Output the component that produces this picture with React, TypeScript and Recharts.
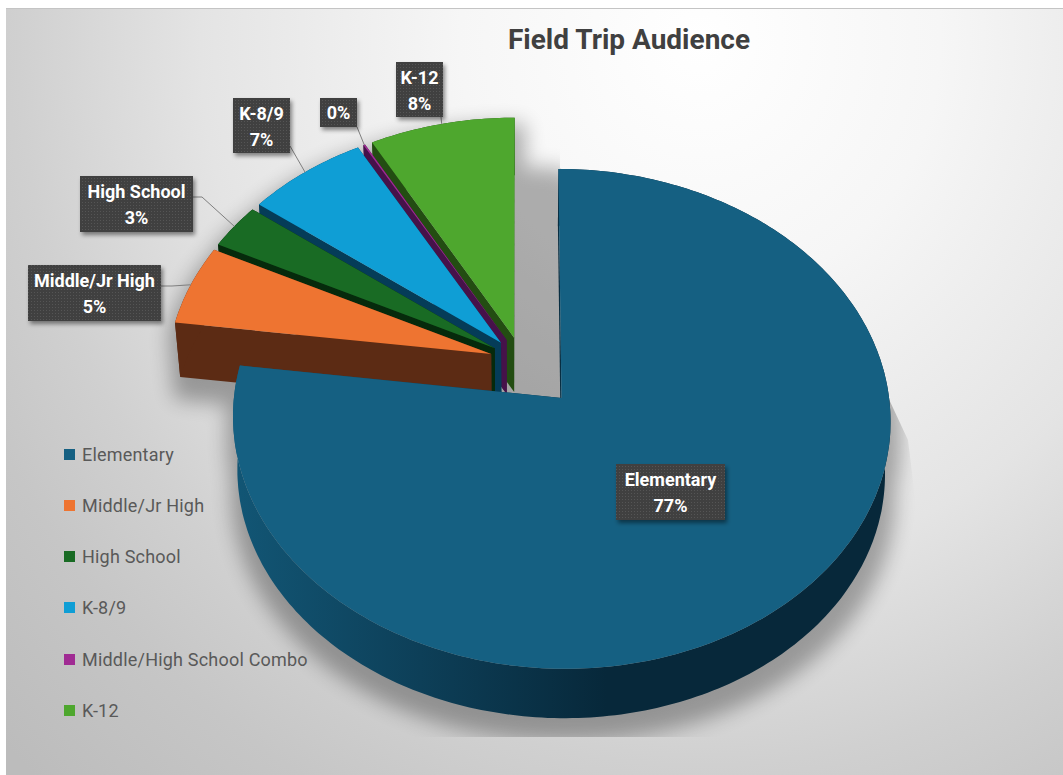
import { PieChart, Pie, Legend } from 'recharts'

const CATEGORIES = ['Elementary', 'Middle/Jr High', 'High School', 'K-8/9', 'Middle/High School Combo', 'K-12']
const VALUES = [77.1, 5.3, 3, 6.6, 0.1, 7.9]
const COLORS = ['#156082', '#EE7431', '#196B24', '#0F9ED5', '#A02B93', '#4EA72E']
const WALLS = ['url(#rimGrad)', '#5C2B14', '#062A0C', '#053C58', '#46124A', '#234D12']

// painted back to front, so the pie runs counter-clockwise from K-12 round to Elementary
const chartData = CATEGORIES.map((name, i) => ({ name, value: VALUES[i], fill: COLORS[i], wall: WALLS[i] })).reverse()

// projection of the tilted pie
const CX = 522
const CY = 361
const RX = 323.5
const RY = 242
const PERSPECTIVE = 0.083
const DEPTH = 54
const BOTTOM_SCALE = 0.985
const EXPLODE_MAIN_X = 0.183
const EXPLODE_MAIN_Y = 0.2
const EXPLODE_REST = 0.1

const RAD = Math.PI / 180

type Pt = [number, number]

function project(u: number, v: number): Pt {
  const w = 1 - PERSPECTIVE * v
  return [CX + (RX * u) / w, CY + (RY * v) / w]
}

function lower([x, y]: Pt): Pt {
  return [CX + BOTTOM_SCALE * (x - CX), CY + DEPTH + BOTTOM_SCALE * (y - CY)]
}

function explodeOf(name: string): Pt {
  return name === 'Elementary' ? [EXPLODE_MAIN_X, EXPLODE_MAIN_Y] : [EXPLODE_REST, EXPLODE_REST]
}

function outline(name: string, startAngle: number, endAngle: number) {
  const mid = ((startAngle + endAngle) / 2) * RAD
  const [ex, ey] = explodeOf(name)
  const ou = ex * Math.cos(mid)
  const ov = -ey * Math.sin(mid)
  const apex = project(ou, ov)
  const steps = Math.max(2, Math.ceil(Math.abs(endAngle - startAngle)))
  const arc: Pt[] = []
  for (let i = 0; i <= steps; i++) {
    const a = (startAngle + ((endAngle - startAngle) * i) / steps) * RAD
    arc.push(project(ou + Math.cos(a), ov - Math.sin(a)))
  }
  return { apex, arc }
}

function toPath(points: Pt[]) {
  return 'M' + points.map((p) => `${p[0].toFixed(1)},${p[1].toFixed(1)}`).join('L') + 'Z'
}

function SliceShape(props: any) {
  const { name, startAngle, endAngle, fill, wall } = props
  const { apex, arc } = outline(name, startAngle, endAngle)
  const first = arc[0]
  const last = arc[arc.length - 1]
  const rim = [...arc, ...arc.map(lower).reverse()]
  return (
    <g>
      <path d={toPath([apex, first, lower(first), lower(apex)])} fill={wall} />
      <path d={toPath([apex, last, lower(last), lower(apex)])} fill={wall} />
      <path d={toPath(rim)} fill={wall} />
      <path d={toPath([apex, ...arc])} fill={fill} />
    </g>
  )
}

function ShadowShape(props: any) {
  const { name, startAngle, endAngle } = props
  const { apex, arc } = outline(name, startAngle, endAngle)
  return (
    <g>
      <path d={toPath([apex, ...arc])} fill="#000" />
      <path d={toPath([lower(apex), ...arc.map(lower)])} fill="#000" />
      <path d={toPath([...arc, ...arc.map(lower).reverse()])} fill="#000" />
      {/* the green slice throws its shadow across the gap beside it */}
      {name === 'K-12' && (
        <>
          <path d={toPath([apex, ...arc])} fill="#000" transform="translate(38,44)" />
          <path d={toPath([apex, ...arc])} fill="#000" transform="translate(38,80)" />
        </>
      )}
    </g>
  )
}

// label boxes as placed by hand in the original: [left, top, width, height]
const LABEL_BOXES: Record<string, number[]> = {
  Elementary: [616, 464, 109, 56],
  'Middle/Jr High': [28, 265, 133, 56],
  'High School': [80, 176, 113, 56],
  'K-8/9': [233, 98, 57, 55],
  'Middle/High School Combo': [320, 98, 37, 29],
  'K-12': [396, 62, 47, 55],
}

// where the leader line leaves each box, with an elbow if it has one
const LEADER_STARTS: Record<string, number[][]> = {
  'Middle/Jr High': [[161, 286], [172, 286]],
  'High School': [[193, 197], [202, 197]],
  'K-8/9': [[290, 146]],
  'Middle/High School Combo': [[357, 127]],
  'K-12': [[441, 117]],
}

function SliceLabel(props: any) {
  const { name, midAngle, percent } = props
  const [left, top, width, height] = LABEL_BOXES[name]
  const pct = `${Math.round(percent * 100)}%`
  const isCombo = name === 'Middle/High School Combo'
  const [ex, ey] = explodeOf(name)
  const m = midAngle * RAD
  const edge = project((1 + ex) * Math.cos(m), -(1 + ey) * Math.sin(m))
  const starts = LEADER_STARTS[name]
  const x = left + width / 2
  return (
    <g>
      {starts && (
        <polyline
          points={[...starts, edge].map((p) => p.join(',')).join(' ')}
          fill="none"
          stroke="#7f7f7f"
          strokeWidth={1}
        />
      )}
      <g filter="url(#boxShadow)">
        <rect x={left} y={top} width={width} height={height} fill="#404040" />
      </g>
      <rect x={left} y={top} width={width} height={height} fill="url(#boxDots)" />
      <g fill="#fff" fontSize={18} fontWeight={700} textAnchor="middle" fontFamily="Roboto, sans-serif">
        {isCombo ? (
          <text x={x} y={top + 21}>{pct}</text>
        ) : (
          <>
            <text x={x} y={top + 22}>{name}</text>
            <text x={x} y={top + 48}>{pct}</text>
          </>
        )}
      </g>
    </g>
  )
}

function ChartLegend() {
  return (
    <div style={{ position: 'relative', width: 300, height: 300 }}>
      {CATEGORIES.map((name, i) => (
        <div
          key={name}
          style={{
            position: 'absolute',
            left: 0,
            top: i * 51.3,
            height: 24,
            display: 'flex',
            alignItems: 'center',
            whiteSpace: 'nowrap',
            fontFamily: 'Roboto, sans-serif',
            fontSize: 18,
            letterSpacing: 0.2,
            color: '#595959',
          }}
        >
          <span style={{ width: 11, height: 11, background: COLORS[i], marginRight: 7 }} />
          {name}
        </div>
      ))}
    </div>
  )
}

export default function App() {
  return (
    <div style={{ position: 'fixed', left: 0, top: 0, width: 1063, height: 775, background: '#fff', overflow: 'hidden' }}>
      <div
        style={{
          position: 'absolute',
          left: 6,
          top: 8,
          width: 1057,
          height: 767,
          borderTop: '1px solid #c4c4c4',
          background:
            'radial-gradient(ellipse 960px 1020px at 694px 32px, #ffffff 0%, #f6f6f6 25%, #e4e4e4 52%, #d0d0d0 71%, #c6c6c6 83%, #bcbcbc 100%)',
        }}
      />
      <div
        style={{
          position: 'absolute',
          left: 429,
          top: 23,
          width: 400,
          textAlign: 'center',
          fontFamily: 'Roboto, sans-serif',
          fontWeight: 700,
          fontSize: 28,
          color: '#404040',
        }}
      >
        Field Trip Audience
      </div>
      <style>{`.pie-shadow { filter: url(#shadowBlur); opacity: 0.3; clip-path: url(#shadowClip); }`}</style>
      <div style={{ position: 'absolute', left: 0, top: 0 }}>
        <PieChart width={1063} height={775} margin={{ top: 0, right: 0, bottom: 0, left: 0 }}>
          <defs>
            <linearGradient id="rimGrad" gradientUnits="userSpaceOnUse" x1="234" y1="0" x2="700" y2="0">
              <stop offset="0" stopColor="#125675" />
              <stop offset="0.4" stopColor="#0D3F58" />
              <stop offset="0.8" stopColor="#07283A" />
              <stop offset="1" stopColor="#07283A" />
            </linearGradient>
            <filter id="shadowBlur" filterUnits="userSpaceOnUse" x="0" y="0" width="1063" height="775">
              <feMorphology operator="dilate" radius="8" />
              <feOffset dx="2" dy="14" />
              <feGaussianBlur stdDeviation="10" />
            </filter>
            <clipPath id="shadowClip">
              <polygon points="0,0 560,0 560,168 880,380 908,440 920,537 920,737 0,737" />
            </clipPath>
            <filter id="boxShadow" x="-20%" y="-20%" width="150%" height="150%">
              <feDropShadow dx="2" dy="3" stdDeviation="2" floodColor="#000" floodOpacity="0.45" />
            </filter>
            <pattern id="boxDots" width="3" height="3" patternUnits="userSpaceOnUse">
              <rect x="1" y="1" width="1" height="1" fill="#555" />
            </pattern>
          </defs>
          <Pie
            className="pie-shadow"
            data={chartData}
            dataKey="value"
            nameKey="name"
            cx={CX}
            cy={CY}
            outerRadius={RX}
            startAngle={90}
            endAngle={450}
            stroke="none"
            shape={ShadowShape}
            isAnimationActive={false}
          />
          <Pie
            data={chartData}
            dataKey="value"
            nameKey="name"
            cx={CX}
            cy={CY}
            outerRadius={RX}
            startAngle={90}
            endAngle={450}
            stroke="none"
            shape={SliceShape}
            label={SliceLabel}
            labelLine={false}
            isAnimationActive={false}
          />
          <Legend
            content={ChartLegend}
            layout="vertical"
            wrapperStyle={{ position: 'absolute', left: 64, top: 442, width: 300, height: 300 }}
          />
        </PieChart>
      </div>
    </div>
  )
}
